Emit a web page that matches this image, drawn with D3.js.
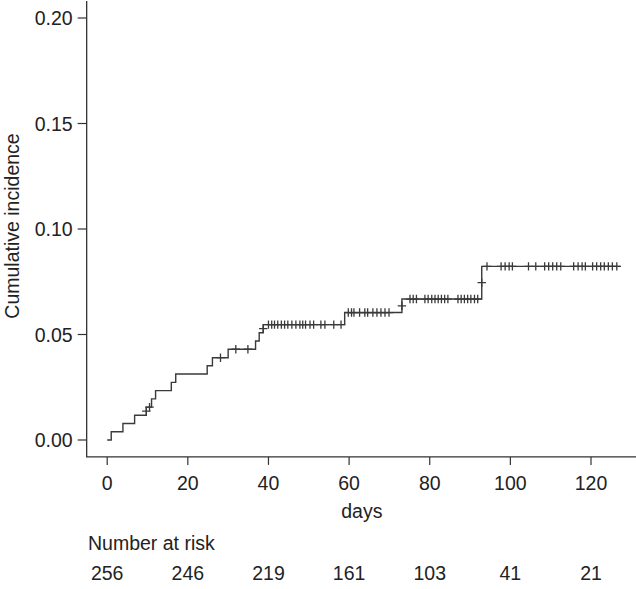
<!DOCTYPE html>
<html>
<head>
<meta charset="utf-8">
<script src="https://cdn.jsdelivr.net/npm/d3@7"></script>
<style>
  html, body { margin: 0; padding: 0; background: #fff; }
  svg { display: block; }
  text { font-family: "Liberation Sans", Arial, Helvetica, sans-serif; fill: #222; }
</style>
</head>
<body>
<svg id="chart" width="636" height="589"></svg>
<script>
// ---- data ----
const eventDays = [1, 3.9, 6.8, 9.7, 11, 12, 15.9, 17, 24.8, 26.1, 30, 36.8, 37.7, 38.7, 58.9, 73.1, 92.9];
const cumInc    = [0.0039, 0.0078, 0.0117, 0.0156, 0.0195, 0.0234, 0.0273, 0.0313, 0.0352, 0.0390,
                   0.0430, 0.0469, 0.0508, 0.0547, 0.0604, 0.0668, 0.0823];
const lastDay = 127.3;
const censorDays = [9.7, 10.5, 28.1, 31.9, 34.9, 38.7,
  40, 40.8, 41.5, 42.3, 43.2, 44, 44.8, 45.8, 46.8, 47.8, 48.5, 49.2, 50.3, 51.2, 53, 54, 56.2, 58,
  59.8, 60.6, 61.2, 62.6, 63.9, 64.6, 65.9, 66.9, 67.9, 68.9, 69.9,
  73.1, 75.1, 75.9, 76.7, 78.8, 79.6, 80.5, 81.3, 82.1, 82.9, 83.7, 84.5, 87, 87.8, 88.6, 89.4, 90.2, 91.1, 91.9,
  92.9, 94.2, 97.7, 98.7, 99.7, 100.5, 104.5, 106.3, 108.5, 109.5, 110.5, 111.5, 112.5, 115.7, 116.8, 117.8,
  118.6, 120.4, 121.4, 122.4, 123.3, 124.3, 125.3, 126.4];
const xTicks = [0, 20, 40, 60, 80, 100, 120];
const yTicks = [0, 0.05, 0.10, 0.15, 0.20];
const riskTimes = [0, 20, 40, 60, 80, 100, 120];
const riskCounts = [256, 246, 219, 161, 103, 41, 21];
const xLabel = "days";
const yLabel = "Cumulative incidence";
const riskTitle = "Number at risk";

// ---- layout ----
const svg = d3.select("#chart");
const FS = 19.5;
const lineCol = "#3a3a3a";

const x = d3.scaleLinear().domain([0, 120]).range([107.2, 591]);
const y = d3.scaleLinear().domain([0, 0.2]).range([440, 18]);

// R-style 4% extended plot region
const xExt = (lastDay - 0) * 0.04;
const xLo = 0 - xExt, xHi = lastDay + xExt;
const yLo = -0.2 * 0.04, yHi = 0.2 * 1.04;

// L-shaped box
svg.append("path")
  .attr("d", `M${x(xLo)},${y(yHi)}V${y(yLo)}H${x(xHi)}`)
  .attr("fill", "none").attr("stroke", "#333").attr("stroke-width", 1.3);

// y axis ticks + labels
const yAxis = svg.append("g");
yTicks.forEach(t => {
  yAxis.append("line").attr("x1", x(xLo) - 9).attr("x2", x(xLo))
    .attr("y1", y(t)).attr("y2", y(t)).attr("stroke", "#333").attr("stroke-width", 1.2);
  yAxis.append("text").attr("x", x(xLo) - 14).attr("y", y(t) + 7)
    .attr("text-anchor", "end").attr("font-size", FS).text(d3.format(".2f")(t));
});

// x axis ticks + labels
const xAxis = svg.append("g");
xTicks.forEach(t => {
  xAxis.append("line").attr("x1", x(t)).attr("x2", x(t))
    .attr("y1", y(yLo)).attr("y2", y(yLo) + 8).attr("stroke", "#333").attr("stroke-width", 1.2);
  xAxis.append("text").attr("x", x(t)).attr("y", 490)
    .attr("text-anchor", "middle").attr("font-size", FS).text(t);
});

// axis titles
svg.append("text").attr("x", (x(xLo) + x(xHi)) / 2 - 2).attr("y", 518)
  .attr("text-anchor", "middle").attr("font-size", FS).text(xLabel);
svg.append("text").attr("transform", `translate(18.5,${y(0.1) - 3}) rotate(-90)`)
  .attr("text-anchor", "middle").attr("font-size", FS).text(yLabel);

// number at risk
svg.append("text").attr("x", 88).attr("y", 550).attr("font-size", FS).text(riskTitle);
riskTimes.forEach((t, i) => {
  svg.append("text").attr("x", x(t)).attr("y", 580)
    .attr("text-anchor", "middle").attr("font-size", FS).text(riskCounts[i]);
});

// step curve
const pts = [[0, 0]].concat(eventDays.map((d, i) => [d, cumInc[i]])).concat([[lastDay, cumInc[cumInc.length - 1]]]);
const line = d3.line().x(d => x(d[0])).y(d => y(d[1])).curve(d3.curveStepAfter);
svg.append("path").attr("d", line(pts))
  .attr("fill", "none").attr("stroke", lineCol).attr("stroke-width", 1.4);

// censor marks ("+")
function levelAt(t) {
  let prev = 0;
  for (let i = 0; i < eventDays.length; i++) {
    if (Math.abs(eventDays[i] - t) < 0.01) return (prev + cumInc[i]) / 2;
    if (eventDays[i] > t) return prev;
    prev = cumInc[i];
  }
  return prev;
}
const h = 4.2;
const marks = svg.append("g").attr("stroke", lineCol).attr("stroke-width", 1.3);
censorDays.forEach(t => {
  const cx = x(t), cy = y(levelAt(t));
  marks.append("path").attr("d", `M${cx - h},${cy}H${cx + h}M${cx},${cy - h}V${cy + h}`);
});
</script>
</body>
</html>
